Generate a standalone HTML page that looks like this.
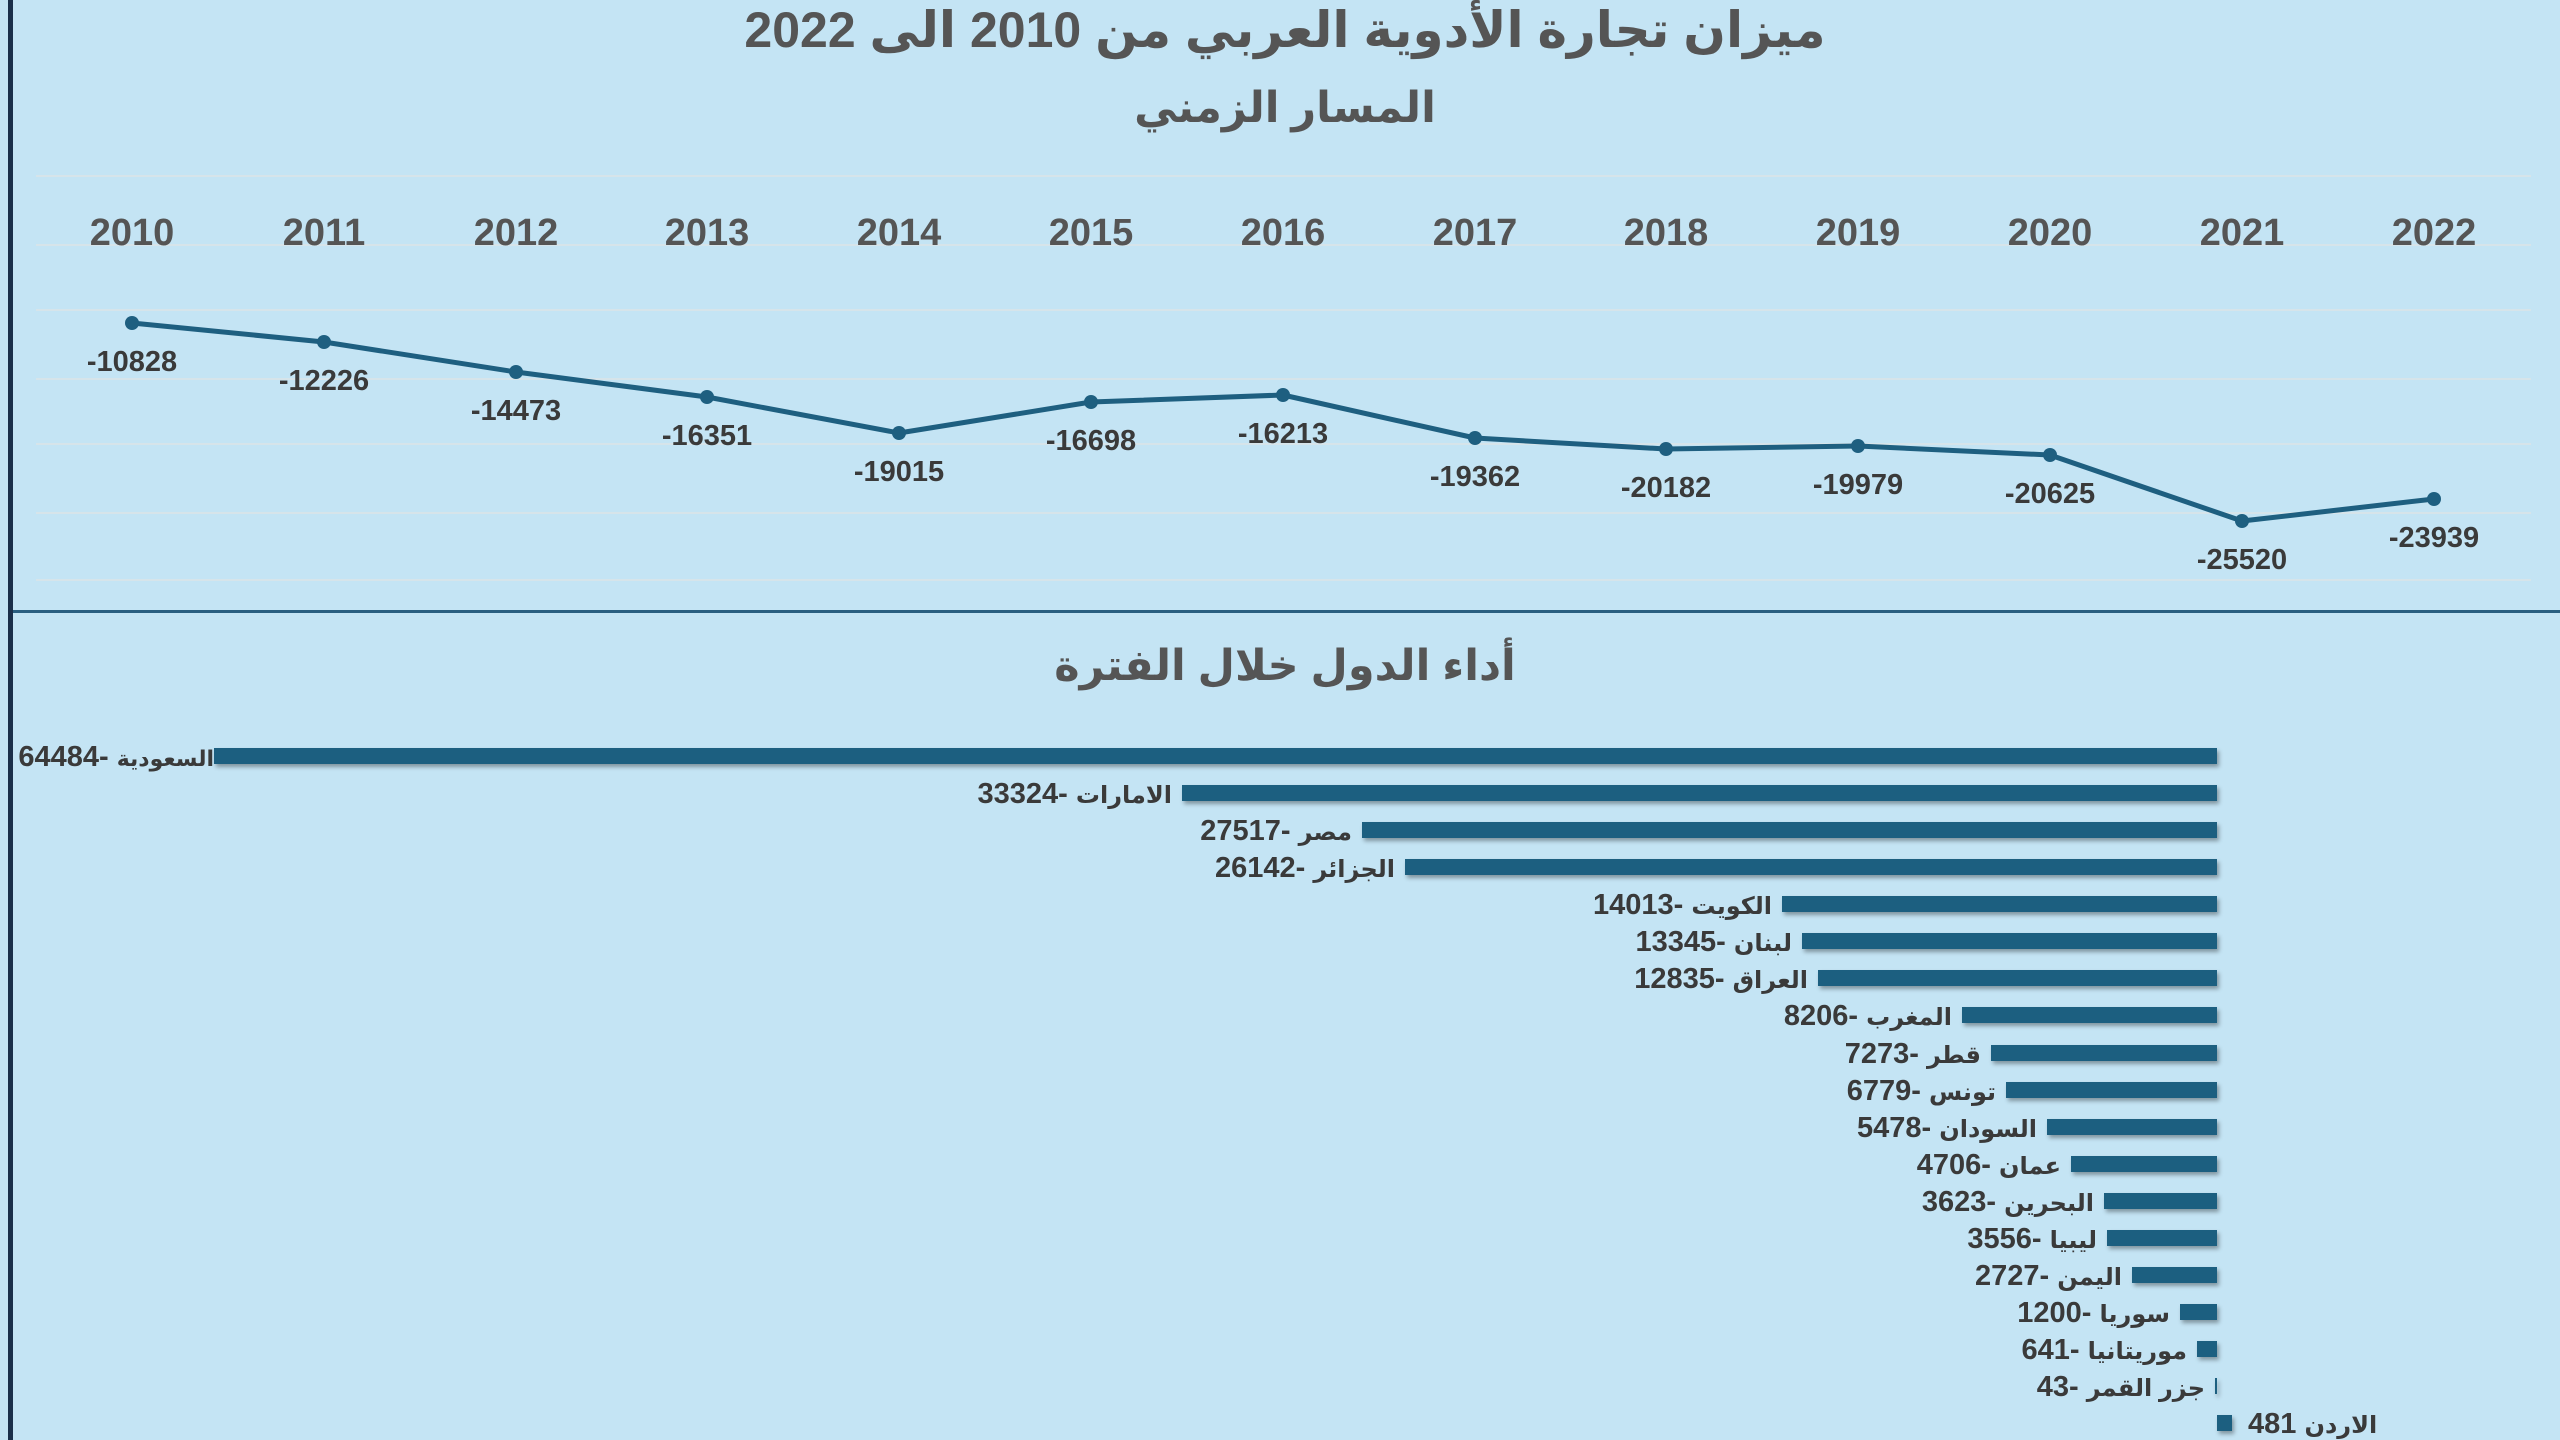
<!DOCTYPE html>
<html><head><meta charset="utf-8">
<style>
html,body{margin:0;padding:0;background:#c4e4f4;}
svg{display:block;}
text{font-family:"Liberation Sans Narrow","Liberation Sans","DejaVu Sans",sans-serif;font-weight:bold;}
</style></head><body>
<svg width="2560" height="1440" viewBox="0 0 2560 1440" xmlns="http://www.w3.org/2000/svg">
<defs>
<filter id="sh" x="-5%" y="-50%" width="110%" height="200%"><feDropShadow dx="2" dy="3" stdDeviation="2" flood-color="#000" flood-opacity="0.35"/></filter>
</defs>
<rect width="2560" height="1440" fill="#c4e4f4"/>
<rect x="8" y="0" width="5" height="1440" fill="#1a2f4a"/>
<rect x="13" y="610" width="2547" height="3" fill="#2a5f80"/>

<text x="1285" y="47" font-size="50" fill="#555" text-anchor="middle" direction="rtl">ميزان تجارة الأدوية العربي من 2010 الى 2022</text>
<text x="1285" y="122" font-size="43" fill="#555" text-anchor="middle" direction="rtl">المسار الزمني</text>

<g stroke="#d6e4ea" stroke-width="2">
<line x1="36" y1="176" x2="2531" y2="176"/><line x1="36" y1="245" x2="2531" y2="245"/>
<line x1="36" y1="310" x2="2531" y2="310"/><line x1="36" y1="379" x2="2531" y2="379"/>
<line x1="36" y1="444" x2="2531" y2="444"/><line x1="36" y1="513" x2="2531" y2="513"/>
<line x1="36" y1="580" x2="2531" y2="580"/>
</g>

<g font-size="38" fill="#555" text-anchor="middle">
<text x="132" y="245">2010</text><text x="324" y="245">2011</text><text x="516" y="245">2012</text>
<text x="707" y="245">2013</text><text x="899" y="245">2014</text><text x="1091" y="245">2015</text>
<text x="1283" y="245">2016</text><text x="1475" y="245">2017</text><text x="1666" y="245">2018</text>
<text x="1858" y="245">2019</text><text x="2050" y="245">2020</text><text x="2242" y="245">2021</text>
<text x="2434" y="245">2022</text>
</g>

<polyline fill="none" stroke="#1e5f80" stroke-width="5" stroke-linejoin="round" points="132,323 324,342 516,372 707,397 899,433 1091,402 1283,395 1475,438 1666,449 1858,446 2050,455 2242,521 2434,499"/>
<g fill="#1e5f80">
<circle cx="132" cy="323" r="7"/><circle cx="324" cy="342" r="7"/><circle cx="516" cy="372" r="7"/>
<circle cx="707" cy="397" r="7"/><circle cx="899" cy="433" r="7"/><circle cx="1091" cy="402" r="7"/>
<circle cx="1283" cy="395" r="7"/><circle cx="1475" cy="438" r="7"/><circle cx="1666" cy="449" r="7"/>
<circle cx="1858" cy="446" r="7"/><circle cx="2050" cy="455" r="7"/><circle cx="2242" cy="521" r="7"/>
<circle cx="2434" cy="499" r="7"/>
</g>
<g font-size="29" fill="#3a3a3a" text-anchor="middle">
<text x="132" y="371">-10828</text><text x="324" y="390">-12226</text><text x="516" y="420">-14473</text>
<text x="707" y="445">-16351</text><text x="899" y="481">-19015</text><text x="1091" y="450">-16698</text>
<text x="1283" y="443">-16213</text><text x="1475" y="486">-19362</text><text x="1666" y="497">-20182</text>
<text x="1858" y="494">-19979</text><text x="2050" y="503">-20625</text><text x="2242" y="569">-25520</text>
<text x="2434" y="547">-23939</text>
</g>

<text x="1285" y="680" font-size="43" fill="#555" text-anchor="middle" direction="rtl">أداء الدول خلال الفترة</text>

<g fill="#1e5f80" filter="url(#sh)">
<rect x="214" y="748" width="2003" height="16"/>
<rect x="1182" y="785" width="1035" height="16"/>
<rect x="1362" y="822" width="855" height="16"/>
<rect x="1405" y="859" width="812" height="16"/>
<rect x="1782" y="896" width="435" height="16"/>
<rect x="1802" y="933" width="415" height="16"/>
<rect x="1818" y="970" width="399" height="16"/>
<rect x="1962" y="1007" width="255" height="16"/>
<rect x="1991" y="1045" width="226" height="16"/>
<rect x="2006" y="1082" width="211" height="16"/>
<rect x="2047" y="1119" width="170" height="16"/>
<rect x="2071" y="1156" width="146" height="16"/>
<rect x="2104" y="1193" width="113" height="16"/>
<rect x="2107" y="1230" width="110" height="16"/>
<rect x="2132" y="1267" width="85" height="16"/>
<rect x="2180" y="1304" width="37" height="16"/>
<rect x="2197" y="1341" width="20" height="16"/>
<rect x="2215" y="1378" width="2" height="16"/>
<rect x="2217" y="1415" width="15" height="16"/>
</g>

<g font-size="29" fill="#3a3a3a" text-anchor="end">
<text x="214" y="766"><tspan>64484- </tspan><tspan font-size="22">السعودية</tspan></text>
<text x="1172" y="803"><tspan>33324- </tspan><tspan font-size="24">الامارات</tspan></text>
<text x="1352" y="840"><tspan>27517- </tspan><tspan font-size="24">مصر</tspan></text>
<text x="1395" y="877"><tspan>26142- </tspan><tspan font-size="24">الجزائر</tspan></text>
<text x="1772" y="914"><tspan>14013- </tspan><tspan font-size="24">الكويت</tspan></text>
<text x="1792" y="951"><tspan>13345- </tspan><tspan font-size="24">لبنان</tspan></text>
<text x="1808" y="988"><tspan>12835- </tspan><tspan font-size="24">العراق</tspan></text>
<text x="1952" y="1025"><tspan>8206- </tspan><tspan font-size="24">المغرب</tspan></text>
<text x="1981" y="1063"><tspan>7273- </tspan><tspan font-size="24">قطر</tspan></text>
<text x="1996" y="1100"><tspan>6779- </tspan><tspan font-size="24">تونس</tspan></text>
<text x="2037" y="1137"><tspan>5478- </tspan><tspan font-size="24">السودان</tspan></text>
<text x="2061" y="1174"><tspan>4706- </tspan><tspan font-size="24">عمان</tspan></text>
<text x="2094" y="1211"><tspan>3623- </tspan><tspan font-size="24">البحرين</tspan></text>
<text x="2097" y="1248"><tspan>3556- </tspan><tspan font-size="24">ليبيا</tspan></text>
<text x="2122" y="1285"><tspan>2727- </tspan><tspan font-size="24">اليمن</tspan></text>
<text x="2170" y="1322"><tspan>1200- </tspan><tspan font-size="24">سوريا</tspan></text>
<text x="2187" y="1359"><tspan>641- </tspan><tspan font-size="24">موريتانيا</tspan></text>
<text x="2205" y="1396"><tspan>43- </tspan><tspan font-size="24">جزر القمر</tspan></text>
</g>
<text x="2248" y="1433" font-size="29" fill="#3a3a3a"><tspan>481 </tspan><tspan font-size="24">الاردن</tspan></text>
</svg>
</body></html>
